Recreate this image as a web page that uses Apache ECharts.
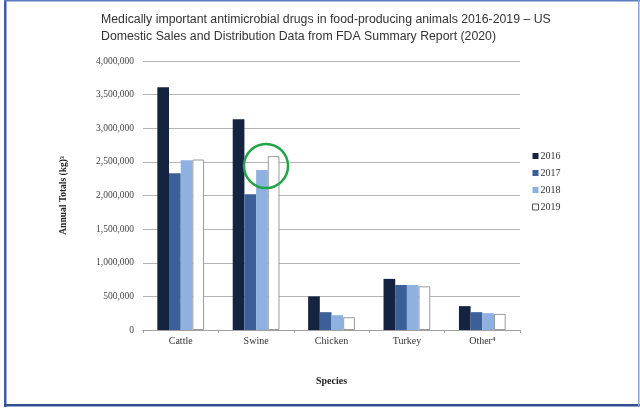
<!DOCTYPE html>
<html>
<head>
<meta charset="utf-8">
<script src="https://cdn.jsdelivr.net/npm/echarts@6/dist/echarts.min.js"></script>
<style>
  html, body { margin: 0; padding: 0; background: #fff; }
  #chart { width: 640px; height: 408px; }
</style>
</head>
<body>
<div id="chart"></div>
<script>
// Species categories and annual totals (kg) per year
const species = ['Cattle', 'Swine', 'Chicken', 'Turkey', 'Other⁴'];
const years = ['2016', '2017', '2018', '2019'];
const sales2016 = [3610000, 3135000, 500000, 760000, 355000];
const sales2017 = [2330000, 2020000, 265000, 670000, 265000];
const sales2018 = [2525000, 2380000, 220000, 670000, 250000];
const sales2019 = [2535000, 2585000, 190000, 650000, 240000];
const yTicks = [0, 500000, 1000000, 1500000, 2000000, 2500000, 3000000, 3500000, 4000000];

const seriesValues = [sales2016, sales2017, sales2018, sales2019];
const barColors = ['#14233f', '#3b5f96', '#8fb1df', '#ffffff'];
const serif = '"Liberation Serif", "DejaVu Serif", serif';

const chart = echarts.init(document.getElementById('chart'));

const series = years.map((y, i) => ({
  name: y,
  type: 'bar',
  data: seriesValues[i],
  barGap: '0%',
  barCategoryGap: '38%',
  itemStyle: {
    color: barColors[i],
    borderColor: i === 3 ? '#9a9a9a' : barColors[i],
    borderWidth: i === 3 ? 1 : 0
  }
}));

chart.setOption({
  animation: false,
  backgroundColor: '#ffffff',
  title: {
    text: 'Medically important antimicrobial drugs in food-producing animals 2016-2019 – US\nDomestic Sales and Distribution Data from FDA Summary Report (2020)',
    left: 96,
    top: 6,
    textStyle: {
      fontFamily: '"Liberation Sans", Arial, sans-serif',
      fontSize: 12.3,
      fontWeight: 'normal',
      color: '#333333',
      lineHeight: 17
    }
  },
  legend: {
    orient: 'vertical',
    left: 527,
    top: 146,
    itemWidth: 6,
    itemHeight: 6,
    itemGap: 7,
    icon: 'rect',
    data: years.map((y, i) => ({
      name: y,
      itemStyle: { borderColor: i === 3 ? '#555' : barColors[i], borderWidth: i === 3 ? 1 : 0 }
    })),
    textStyle: { fontFamily: serif, fontSize: 10, color: '#333', padding: [0, 0, 0, -3] }
  },
  grid: { left: 143, right: 120, top: 61, bottom: 78 },
  xAxis: {
    type: 'category',
    data: species,
    name: 'Species',
    nameLocation: 'middle',
    nameGap: 46,
    nameTextStyle: { fontFamily: serif, fontSize: 10, fontWeight: 'bold', color: '#222' },
    axisLine: { lineStyle: { color: '#a0a0a0', width: 1 } },
    axisTick: { show: true, length: 3, lineStyle: { color: '#a0a0a0' } },
    axisLabel: { fontFamily: serif, fontSize: 10, color: '#333', margin: 6 }
  },
  yAxis: {
    type: 'value',
    min: 0,
    max: 4000000,
    interval: 500000,
    name: 'Annual Totals (kg)³',
    nameLocation: 'middle',
    nameGap: 74,
    nameRotate: 90,
    nameTextStyle: { fontFamily: serif, fontSize: 9.5, fontWeight: 'bold', color: '#222' },
    axisLine: { show: false },
    axisTick: { show: false },
    splitLine: { lineStyle: { color: '#b5b5b5', width: 1 } },
    axisLabel: {
      fontFamily: serif,
      fontSize: 9.5,
      color: '#444',
      margin: 9,
      formatter: v => yTicks.includes(v) ? v.toLocaleString('en-US') : ''
    }
  },
  series: series,
  graphic: [
    // highlight ring around the Swine 2018–2019 bars
    {
      type: 'circle',
      shape: { cx: 266, cy: 166, r: 22 },
      style: { fill: 'none', stroke: '#22a548', lineWidth: 2.5 },
      z: 100
    },
    // slide frame
    { type: 'rect', shape: { x: 4, y: 0, width: 2.5, height: 407 }, style: { fill: '#3a5da5' }, z: 100 },
    { type: 'rect', shape: { x: 4, y: 0, width: 636, height: 1.5 }, style: { fill: '#5a7bbd' }, z: 100 },
    { type: 'rect', shape: { x: 4, y: 404, width: 636, height: 2.5 }, style: { fill: '#2f4f92' }, z: 100 },
    { type: 'rect', shape: { x: 638, y: 0, width: 1.5, height: 407 }, style: { fill: '#8aa2d2' }, z: 100 }
  ]
});
</script>
</body>
</html>
